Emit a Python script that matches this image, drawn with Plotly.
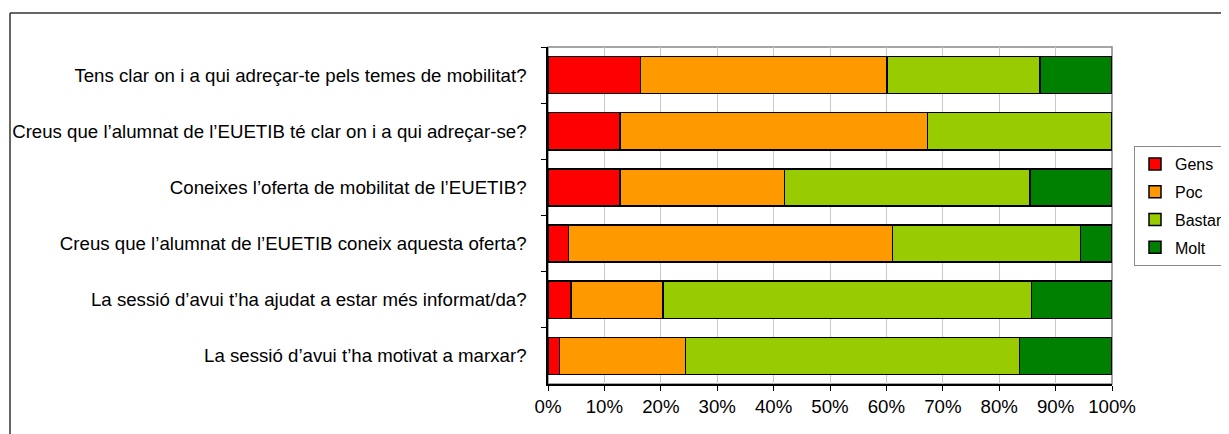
import plotly.graph_objects as go

questions = [
    "Tens clar on i a qui adreçar-te pels temes de mobilitat?",
    "Creus que l’alumnat de l’EUETIB té clar on i a qui adreçar-se?",
    "Coneixes l’oferta de mobilitat de l’EUETIB?",
    "Creus que l’alumnat de l’EUETIB coneix aquesta oferta?",
    "La sessió d’avui t’ha ajudat a estar més informat/da?",
    "La sessió d’avui t’ha motivat a marxar?",
]
gens = [16.4, 12.8, 12.8, 3.6, 4.1, 2.0]
poc = [43.7, 54.5, 29.1, 57.5, 16.3, 22.4]
bastant = [27.1, 32.7, 43.6, 33.3, 65.3, 59.2]
molt = [12.8, 0.0, 14.5, 5.6, 14.3, 16.4]

series_names = ["Gens", "Poc", "Bastant", "Molt"]
series_values = [gens, poc, bastant, molt]
colors = ["#FF0000", "#FF9900", "#99CC00", "#008000"]
x_ticks = list(range(0, 101, 10))
x_tick_labels = [f"{v}%" for v in x_ticks]

# page offset of the plot div (default body margin)
OFF = 8
W, H = 1229 - OFF, 434 - OFF
plot_l, plot_r, plot_t, plot_b = 548 - OFF, 1112 - OFF, 47 - OFF, 384 - OFF
L, R, T, B = plot_l, W - plot_r, plot_t, H - plot_b
pw, ph = W - L - R, H - T - B

def px_x(p):
    return (p - OFF - L) / pw

def px_y(p):
    return (H - B - (p - OFF)) / ph

fig = go.Figure()
for name, vals, col in zip(series_names, series_values, colors):
    fig.add_trace(go.Bar(
        y=questions, x=vals, name=name, orientation="h",
        marker=dict(color=col, line=dict(color="#000000", width=1.5)),
        legendgroup=name,
    ))

shapes = [
    dict(type="rect", xref="paper", yref="paper", x0=0, x1=1, y0=0, y1=1,
         line=dict(color="#888888", width=1.5), layer="below"),
    dict(type="line", xref="paper", yref="paper",
         x0=px_x(10), x1=px_x(10), y0=px_y(13), y1=px_y(450),
         line=dict(color="#333333", width=1.5)),
    dict(type="line", xref="paper", yref="paper",
         x0=px_x(10), x1=px_x(1250), y0=px_y(13), y1=px_y(13),
         line=dict(color="#333333", width=1.5)),
]

fig.update_layout(
    width=W, height=H,
    margin=dict(l=L, r=R, t=T, b=B, autoexpand=False),
    barmode="stack",
    bargap=0.34,
    plot_bgcolor="#FFFFFF",
    paper_bgcolor="#FFFFFF",
    font=dict(family="Liberation Sans, Arial, sans-serif", size=18.67, color="#000000"),
    shapes=shapes,
    legend=dict(
        x=px_x(1134), y=px_y(146), xanchor="left", yanchor="top",
        bordercolor="#888888", borderwidth=1, bgcolor="#FFFFFF",
        font=dict(size=16), traceorder="grouped", tracegroupgap=4,
        itemwidth=30,
    ),
    xaxis=dict(
        range=[0, 100], tickvals=x_ticks, ticktext=x_tick_labels,
        showgrid=True, gridcolor="#C8C8C8", gridwidth=1,
        showline=True, linecolor="#000000", linewidth=1.5,
        ticks="outside", ticklen=5, tickcolor="#000000", zeroline=False,
        fixedrange=True,
    ),
    yaxis=dict(
        categoryorder="array", categoryarray=questions, autorange="reversed",
        showline=True, linecolor="#000000", linewidth=1.5,
        ticks="outside", ticklen=5, tickcolor="#000000", tickson="boundaries",
        ticklabelstandoff=16, showgrid=False,
    ),
)

fig.write_html("out.html")
